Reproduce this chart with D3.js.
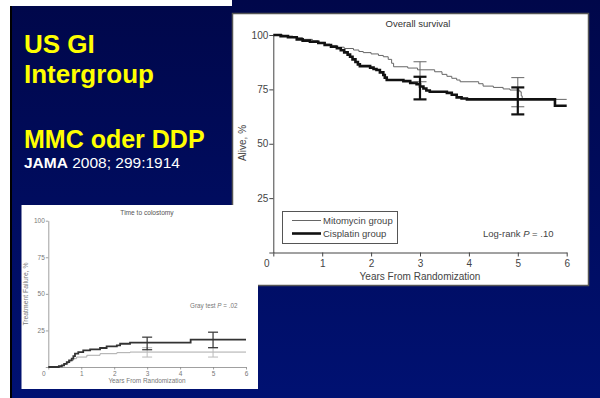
<!DOCTYPE html>
<html><head><meta charset="utf-8">
<script src="https://cdn.jsdelivr.net/npm/d3@7"></script>
<style>
body{margin:0;background:#fff;}
svg{display:block;font-family:Arial,"Liberation Sans",Helvetica,sans-serif;}
</style>
</head><body>
<svg id="c" width="600" height="398"></svg>
<script>
// ---------- data ----------
const yearTicks = [0,1,2,3,4,5,6];
const pctTicks = [0,25,50,75,100];

// Overall survival (Kaplan-Meier), % alive
const survMitoT = [0,0.2,0.4,0.6,0.8,0.92,1.05,1.16,1.3,1.45,1.64,1.75,1.84,2.0,2.15,2.25,2.35,2.42,2.46,2.75,2.95,3.3,3.45,3.55,3.65,3.75,3.82,4.2,4.29,4.5,4.7,4.84,5.04,5.07,5.09,6.0];
const survMitoS = [100,99.5,98.8,98.0,97.4,96.6,95.8,95.2,94.4,93.8,93.1,92.4,91.9,91.3,90.6,90.0,88.8,87.0,85.4,84.8,84.0,83.1,81.9,81.0,80.1,79.3,78.5,77.6,76.5,75.9,75.2,74.7,73.9,72.0,70.4,70.4];
const survCisT = [0,0.15,0.3,0.48,0.6,0.75,0.92,1.05,1.18,1.3,1.38,1.45,1.52,1.57,1.62,1.68,1.73,1.77,1.98,2.05,2.11,2.18,2.25,2.28,2.32,2.66,2.8,2.93,3.0,3.07,3.13,3.2,3.55,3.65,3.75,3.85,3.96,5.76,6.0];
const survCisS = [100,99.5,99.0,98.0,97.4,96.9,96.3,95.4,94.6,93.9,93.0,92.0,91.0,90.0,88.8,87.6,86.5,85.7,85.0,84.4,83.9,82.8,81.6,80.4,79.3,78.8,78.0,77.4,76.3,75.4,74.5,73.9,73.4,72.5,71.3,70.8,70.4,67.5,67.5];
const survCiT = [3,5];
const survMitoLo = [78.5,67.0], survMitoHi = [87.7,80.4];
const survCisLo = [70.4,63.5], survCisHi = [80.8,75.9];

// Time to colostomy, % treatment failure
const colMitoT = [0,0.35,0.46,0.55,0.61,0.68,0.76,0.86,1.17,1.57,2.08,2.48,6.0];
const colMitoV = [0,0.8,1.8,2.6,3.4,4.5,5.7,6.8,8.0,9.1,9.8,10.2,10.2];
const colCisT = [0,0.32,0.41,0.48,0.56,0.63,0.71,0.76,0.81,0.91,1.06,1.27,1.57,1.77,2.08,2.18,2.48,4.32,6.0];
const colCisV = [0,0.5,1.1,2.2,3.4,4.5,5.7,7.5,9.1,10.2,11.4,12.1,13.0,14.1,14.8,15.9,16.6,18.7,18.7];
const colCiT = [3,5];
const colMitoLo = [6.8,6.8], colMitoHi = [13.2,13.2];
const colCisLo = [11.8,13.2], colCisHi = [20.4,23.8];

const legendLabels = ["Mitomycin group","Cisplatin group"];

// ---------- drawing ----------
const svg = d3.select("#c");
const defs = svg.append("defs");
const grad = defs.append("linearGradient").attr("id","bg").attr("x1",0).attr("y1",0).attr("x2",0).attr("y2",1);
grad.append("stop").attr("offset","0%").attr("stop-color","#00074a");
grad.append("stop").attr("offset","100%").attr("stop-color","#001172");

svg.append("rect").attr("x",0).attr("y",0).attr("width",600).attr("height",398).attr("fill","#fff");
svg.append("rect").attr("x",10).attr("y",0).attr("width",590).attr("height",398).attr("fill","url(#bg)");
svg.append("rect").attr("x",0).attr("y",0).attr("width",232).attr("height",6).attr("fill","#fff");
svg.append("rect").attr("x",10).attr("y",6).attr("width",2).attr("height",392).attr("fill","#000");

// slide text
const tg = svg.append("g").attr("font-weight","bold").attr("fill","#ffff00");
tg.append("text").attr("x",24).attr("y",53).attr("font-size",26).text("US GI");
tg.append("text").attr("x",24).attr("y",83).attr("font-size",26).text("Intergroup");
tg.append("text").attr("x",24).attr("y",148).attr("font-size",25).text("MMC oder DDP");
const jt = svg.append("text").attr("x",24).attr("y",168).attr("font-size",15.5).attr("fill","#fff");
jt.append("tspan").attr("font-weight","bold").text("JAMA");
jt.append("tspan").text(" 2008; 299:1914");

function stepLine(x,y,T,V){
  const pts = T.map((t,i)=>[t,V[i]]);
  return d3.line().x(d=>x(d[0])).y(d=>y(d[1])).curve(d3.curveStepAfter)(pts);
}
function errBars(g,x,y,T,lo,hi,color,w,capW){
  T.forEach((t,i)=>{
    const cx = x(t);
    g.append("line").attr("x1",cx).attr("x2",cx).attr("y1",y(lo[i])).attr("y2",y(hi[i])).attr("stroke",color).attr("stroke-width",w);
    [lo[i],hi[i]].forEach(v=>{
      g.append("line").attr("x1",cx-capW).attr("x2",cx+capW).attr("y1",y(v)).attr("y2",y(v)).attr("stroke",color).attr("stroke-width",w);
    });
  });
}

// ---------- big panel: Overall survival ----------
svg.append("rect").attr("x",232.5).attr("y",13.5).attr("width",356).attr("height",272).attr("fill","#fff").attr("stroke","#555").attr("stroke-width",1.5);
const bx = d3.scaleLinear().domain([0,6]).range([273.3,566.7]);
const by = d3.scaleLinear().domain([0,100]).range([252.5,35]);
const big = svg.append("g");
const bya = big.append("g").attr("transform","translate(273.3,0)")
  .call(d3.axisLeft(by).tickValues(pctTicks).tickSize(4).tickSizeOuter(0).tickFormat(d=>d===0?"":d3.format("d")(d)));
const bxa = big.append("g").attr("transform","translate(0,252.5)")
  .call(d3.axisBottom(bx).tickValues(yearTicks).tickSize(4).tickSizeOuter(0).tickFormat(d3.format("d")));
[bya,bxa].forEach(a=>{
  a.selectAll("path,line").attr("stroke","#444").attr("stroke-width",1);
  a.selectAll("text").attr("fill","#444").attr("font-size",10).attr("font-family","Arial, Liberation Sans, sans-serif");
});
bya.selectAll("text").attr("x",-5);
bxa.selectAll("text").attr("y",7);
bxa.selectAll(".tick").filter(d=>d===0).select("text").attr("dx",-7);

big.append("text").attr("x",418).attr("y",27).attr("text-anchor","middle").attr("font-size",9.5).attr("fill","#333").text("Overall survival");
big.append("text").attr("transform","translate(246,143) rotate(-90)").attr("text-anchor","middle").attr("font-size",10).attr("fill","#444").text("Alive, %");
big.append("text").attr("x",420).attr("y",280).attr("text-anchor","middle").attr("font-size",10).attr("fill","#444").text("Years From Randomization");

big.append("path").attr("d",stepLine(bx,by,survMitoT,survMitoS)).attr("fill","none").attr("stroke","#666").attr("stroke-width",1);
big.append("path").attr("d",stepLine(bx,by,survCisT,survCisS)).attr("fill","none").attr("stroke","#111").attr("stroke-width",2.6);
errBars(big,bx,by,survCiT,survMitoLo,survMitoHi,"#666",1,6.5);
errBars(big,bx,by,survCiT,survCisLo,survCisHi,"#111",2.2,6.5);

// legend
big.append("rect").attr("x",282.5).attr("y",211.5).attr("width",115).attr("height",32).attr("fill","#fff").attr("stroke","#555").attr("stroke-width",1);
big.append("line").attr("x1",292).attr("x2",321).attr("y1",220.5).attr("y2",220.5).attr("stroke","#666").attr("stroke-width",1);
big.append("line").attr("x1",292).attr("x2",321).attr("y1",233.5).attr("y2",233.5).attr("stroke","#111").attr("stroke-width",2.6);
big.append("text").attr("x",323).attr("y",224).attr("font-size",9.5).attr("fill","#444").text(legendLabels[0]);
big.append("text").attr("x",323).attr("y",237).attr("font-size",9.5).attr("fill","#444").text(legendLabels[1]);
const lr = big.append("text").attr("x",483).attr("y",237).attr("font-size",9.5).attr("fill","#444");
lr.append("tspan").text("Log-rank ");
lr.append("tspan").attr("font-style","italic").text("P");
lr.append("tspan").text(" = .10");

// ---------- small panel: Time to colostomy ----------
svg.append("rect").attr("x",21.5).attr("y",205).attr("width",236.5).attr("height",184).attr("fill","#fff");
const sx = d3.scaleLinear().domain([0,6]).range([48.3,246]);
const sy = d3.scaleLinear().domain([0,100]).range([367,220.7]);
const sm = svg.append("g");
const sya = sm.append("g").attr("transform","translate(48.3,0)")
  .call(d3.axisLeft(sy).tickValues(pctTicks).tickSize(2.5).tickSizeOuter(0).tickFormat(d=>d===0?"":d3.format("d")(d)));
const sxa = sm.append("g").attr("transform","translate(0,367)")
  .call(d3.axisBottom(sx).tickValues(yearTicks).tickSize(2.5).tickSizeOuter(0).tickFormat(d3.format("d")));
[sya,sxa].forEach(a=>{
  a.selectAll("path,line").attr("stroke","#888").attr("stroke-width",0.8);
  a.selectAll("text").attr("fill","#777").attr("font-size",6.5).attr("font-family","Arial, Liberation Sans, sans-serif");
});
sya.selectAll("text").attr("x",-3.5);
sxa.selectAll("text").attr("y",4);
sxa.selectAll(".tick").filter(d=>d===0).select("text").attr("dx",-5);

sm.append("text").attr("x",147).attr("y",215).attr("text-anchor","middle").attr("font-size",6.6).attr("fill","#555").text("Time to colostomy");
sm.append("text").attr("transform","translate(28,294) rotate(-90)").attr("text-anchor","middle").attr("font-size",6.8).attr("fill","#777").text("Treatment Failure, %");
sm.append("text").attr("x",147).attr("y",383).attr("text-anchor","middle").attr("font-size",6.4).attr("fill","#777").text("Years From Randomization");
const gt = sm.append("text").attr("x",190).attr("y",308).attr("font-size",6.3).attr("fill","#777");
gt.append("tspan").text("Gray test ");
gt.append("tspan").attr("font-style","italic").text("P");
gt.append("tspan").text(" = .02");

sm.append("path").attr("d",stepLine(sx,sy,colMitoT,colMitoV)).attr("fill","none").attr("stroke","#aaa").attr("stroke-width",1);
sm.append("path").attr("d",stepLine(sx,sy,colCisT,colCisV)).attr("fill","none").attr("stroke","#333").attr("stroke-width",1.8);
errBars(sm,sx,sy,colCiT,colMitoLo,colMitoHi,"#bbb",1,5);
errBars(sm,sx,sy,colCiT,colCisLo,colCisHi,"#333",1.2,5);
</script>
</body></html>
